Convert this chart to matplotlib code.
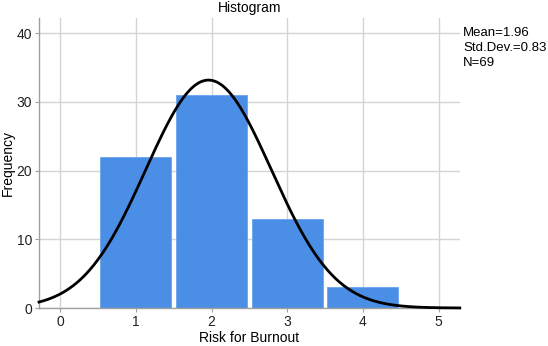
import numpy as np
import matplotlib
matplotlib.use("Agg")
import matplotlib.pyplot as plt

plt.rcParams['font.family'] = ['Liberation Sans', 'DejaVu Sans']

categories = [1, 2, 3, 4]
counts = [22, 31, 13, 3]
mean = 1.96
sd = 0.83
n = 69
xticks = [0, 1, 2, 3, 4, 5]
yticks = [0, 10, 20, 30, 40]

fig = plt.figure(figsize=(5.48, 3.46), dpi=100)
ax = fig.add_axes([0.0712, 0.1098, 0.839 - 0.0712, 0.948 - 0.1098])

ax.set_xlim(-0.28, 5.28)
ax.set_ylim(0, 42.2)
ax.set_axisbelow(True)
ax.grid(True, color='#d4d4d4', linewidth=1.0)

ax.bar(categories, counts, width=0.94, color='#4a8ee6', edgecolor='#6aa5ee',
       linewidth=0.6, zorder=2)

xs = np.linspace(-0.28, 5.28, 400)
ys = n * 1.0 / (sd * np.sqrt(2 * np.pi)) * np.exp(-0.5 * ((xs - mean) / sd) ** 2)
ax.plot(xs, ys, color='black', linewidth=2.0, zorder=3, clip_on=False)

ax.set_xticks(xticks)
ax.set_yticks(yticks)
ax.tick_params(axis='both', labelsize=10, colors='#222222', length=3,
               color='#a0a0a0', pad=2)
for s in ['top', 'right']:
    ax.spines[s].set_visible(False)
for s in ['left', 'bottom']:
    ax.spines[s].set_color('#a0a0a0')
    ax.spines[s].set_linewidth(1.0)

ax.set_xlabel('Risk for Burnout', fontsize=10, va='center')
ax.xaxis.set_label_coords(0.5, -30 / 290)
ax.yaxis.set_label_coords(-0.058, 0.5)
ax.set_ylabel('Frequency', fontsize=10)
fig.text(0.5 * (0.0712 + 0.839), 1 - 8 / 346, 'Histogram', ha='center', va='center',
         fontsize=10)

fig.text(463 / 548, 1 - 33 / 346, f'Mean={mean:.2f}', ha='left', va='center', fontsize=9.5)
fig.text(463 / 548, 1 - 48 / 346, f'Std.Dev.={sd:.2f}', ha='left', va='center', fontsize=9.5)
fig.text(463 / 548, 1 - 63 / 346, f'N={n}', ha='left', va='center', fontsize=9.5)

fig.savefig('out.png', dpi=100, facecolor='white')
